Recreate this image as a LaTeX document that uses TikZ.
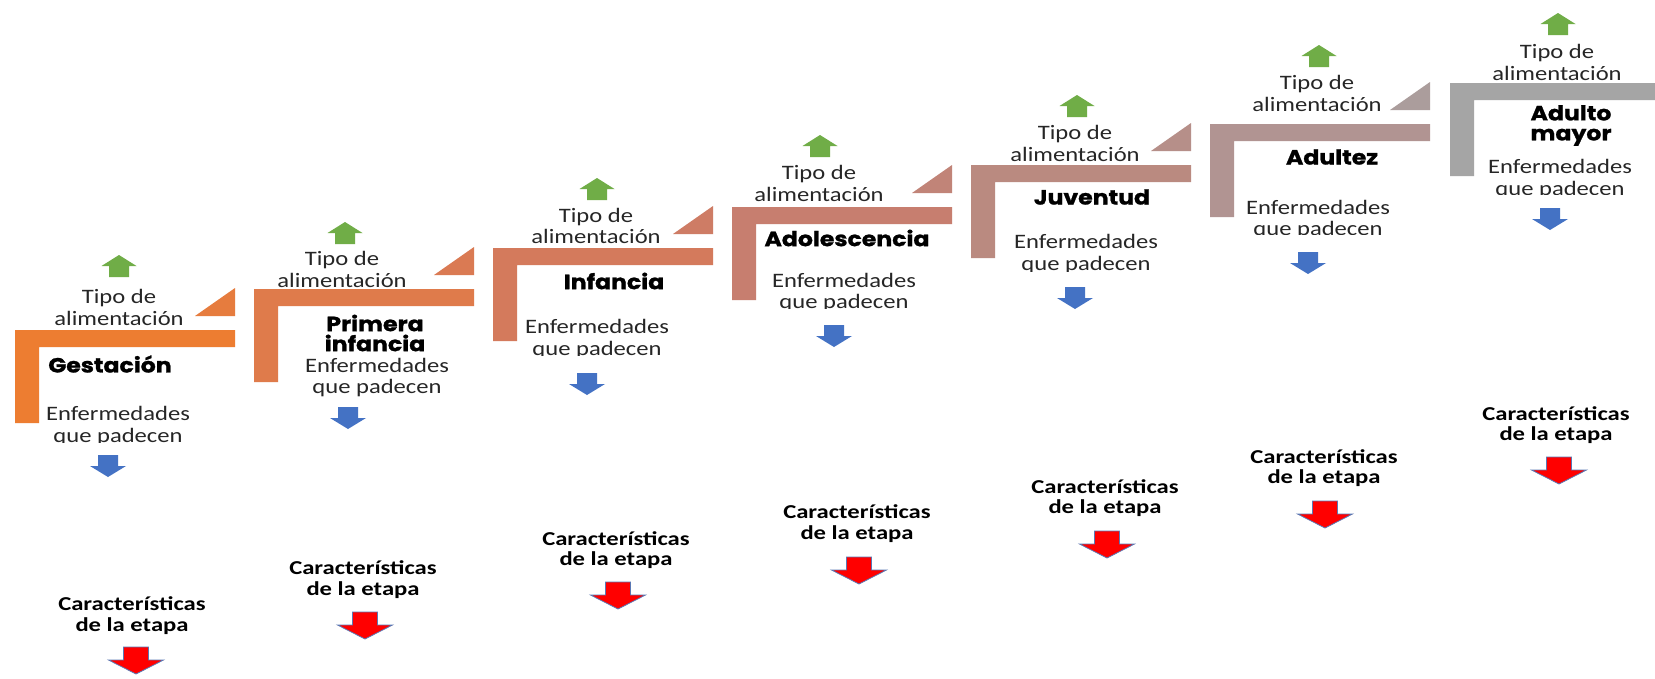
\documentclass[tikz,border=0pt]{standalone}
\usepackage{fontspec}
\newfontfamily\regf[FakeStretch=1.2]{Carlito}
\newfontfamily\carf[FakeStretch=1.25]{Carlito}
\newfontfamily\namef[FakeStretch=1.15,BoldFeatures={FakeBold=1.2}]{Poppins}

% stage colours, orange fading to grey
\definecolor{stA}{HTML}{ED7D31}
\definecolor{stB}{HTML}{DF7B4B}
\definecolor{stC}{HTML}{D47A5C}
\definecolor{stD}{HTML}{C77E6F}
\definecolor{stE}{HTML}{BA8A80}
\definecolor{stF}{HTML}{B19492}
\definecolor{stG}{HTML}{A5A5A5}
\definecolor{upgreen}{HTML}{70AD47}
\definecolor{downblue}{HTML}{4472C4}
\definecolor{redarr}{HTML}{FF0000}
\definecolor{redline}{HTML}{5A78B4}

% corner step: left x, top y, colour
\newcommand{\stepL}[3]{%
  \fill[#3] (#1,#2) -- ({#1+220},#2) -- ({#1+220},{#2+17}) -- ({#1+24},{#2+17})
    -- ({#1+24},{#2+93}) -- (#1,{#2+93}) -- cycle;}
% small triangle at the right end of a step
\newcommand{\stepTri}[3]{%
  \fill[#3] ({#1+180},{#2-14}) -- ({#1+220},{#2-14}) -- ({#1+220},{#2-42}) -- cycle;}

\tikzset{
  lbl/.style={font=\regf\fontsize{20.5}{21.5}\selectfont, text=black!85, align=center, inner sep=0pt},
  stname/.style={font=\namef\bfseries\fontsize{20.5}{20}\selectfont, text=black, align=center, inner sep=0pt},
  cartxt/.style={font=\carf\bfseries\fontsize{19.7}{20.5}\selectfont, text=black, align=center, inner sep=0pt},
  uparr/.pic={\fill[upgreen] (0,0) -- (17.5,11) -- (10,11) -- (10,22) -- (-10,22) -- (-10,11) -- (-17.5,11) -- cycle;},
  downarr/.pic={\fill[downblue] (-10,0) -- (10,0) -- (10,11) -- (18,11) -- (0,22) -- (-18,11) -- (-10,11) -- cycle;},
  redarrow/.pic={\filldraw[fill=redarr, draw=redline, line width=0.8pt] (-12.5,0) -- (12.5,0) -- (12.5,13) -- (27.5,13) -- (0,27) -- (-27.5,13) -- (-12.5,13) -- cycle;}
}

\begin{document}
\begin{tikzpicture}[x=1pt,y=-1pt]
\useasboundingbox (0,0) rectangle (1655,678);
\fill[white] (0,0) rectangle (1655,678);
\clip (0,0) rectangle (1655,678);

% steps
\stepL{15}{330}{stA}    \stepTri{15}{330}{stA!50!stB}
\stepL{254}{289}{stB}   \stepTri{254}{289}{stB!50!stC}
\stepL{493}{248}{stC}   \stepTri{493}{248}{stC!50!stD}
\stepL{732}{207}{stD}   \stepTri{732}{207}{stD!50!stE}
\stepL{971}{165}{stE}   \stepTri{971}{165}{stE!50!stF}
\stepL{1210}{124}{stF}  \stepTri{1210}{124}{stF!50!stG}
\stepL{1450}{83}{stG}

% Gestación
\pic at (119,255) {uparr};
\node[lbl] (tipoA) at (119,307.5) {Tipo de\\alimentación};
\node[stname] (nameA) at (110,364) {Gestación};
\begin{scope}\clip (0,390) rectangle (240,442);
\node[lbl] (enfA) at (118,426) {Enfermedades\\que padecen};
\end{scope}
\pic at (108,455) {downarr};
\node[cartxt] (carA) at (132,615.5) {Características\\de la etapa};
\pic at (136,647) {redarrow};

% Primera infancia
\pic at (345,222) {uparr};
\node[lbl] (tipoB) at (342,269.5) {Tipo de\\alimentación};
\node[stname] (nameB) at (375,333) {Primera\\infancia};
\node[lbl] (enfB) at (377,377.5) {Enfermedades\\que padecen};
\pic at (348,407) {downarr};
\node[cartxt] (carB) at (363,579.5) {Características\\de la etapa};
\pic at (365,612) {redarrow};

% Infancia
\pic at (597,178) {uparr};
\node[lbl] (tipoC) at (596,226) {Tipo de\\alimentación};
\node[stname] (nameC) at (614,281) {Infancia};
\begin{scope}\clip (480,300) rectangle (720,355);
\node[lbl] (enfC) at (597,339) {Enfermedades\\que padecen};
\end{scope}
\pic at (587,373) {downarr};
\node[cartxt] (carC) at (616,550) {Características\\de la etapa};
\pic at (618,582) {redarrow};

% Adolescencia
\pic at (820,135) {uparr};
\node[lbl] (tipoD) at (819,183.5) {Tipo de\\alimentación};
\node[stname] (nameD) at (847,238) {Adolescencia};
\begin{scope}\clip (720,255) rectangle (960,308);
\node[lbl] (enfD) at (844,292.5) {Enfermedades\\que padecen};
\end{scope}
\pic at (834,325) {downarr};
\node[cartxt] (carD) at (857,523.5) {Características\\de la etapa};
\pic at (859,557) {redarrow};

% Juventud
\pic at (1077,95) {uparr};
\node[lbl] (tipoE) at (1075,143.5) {Tipo de\\alimentación};
\node[stname] (nameE) at (1092,197) {Juventud};
\begin{scope}\clip (960,215) rectangle (1200,271);
\node[lbl] (enfE) at (1086,254) {Enfermedades\\que padecen};
\end{scope}
\pic at (1075,287) {downarr};
\node[cartxt] (carE) at (1105,498) {Características\\de la etapa};
\pic at (1107,531) {redarrow};

% Adultez
\pic at (1319,45) {uparr};
\node[lbl] (tipoF) at (1317,93.5) {Tipo de\\alimentación};
\node[stname] (nameF) at (1332,157) {Adultez};
\begin{scope}\clip (1200,180) rectangle (1440,234);
\node[lbl] (enfF) at (1318,219.5) {Enfermedades\\que padecen};
\end{scope}
\pic at (1308,252) {downarr};
\node[cartxt] (carF) at (1324,468) {Características\\de la etapa};
\pic at (1325,501) {redarrow};

% Adulto mayor
\pic at (1558,13) {uparr};
\node[lbl] (tipoG) at (1557,62.5) {Tipo de\\alimentación};
\node[stname] (nameG) at (1571,125.5) {Adulto\\mayor};
\begin{scope}\clip (1440,140) rectangle (1655,194);
\node[lbl] (enfG) at (1560,179) {Enfermedades\\que padecen};
\end{scope}
\pic at (1550,208) {downarr};
\node[cartxt] (carG) at (1556,425) {Características\\de la etapa};
\pic at (1559,457) {redarrow};
\end{tikzpicture}
\end{document}
